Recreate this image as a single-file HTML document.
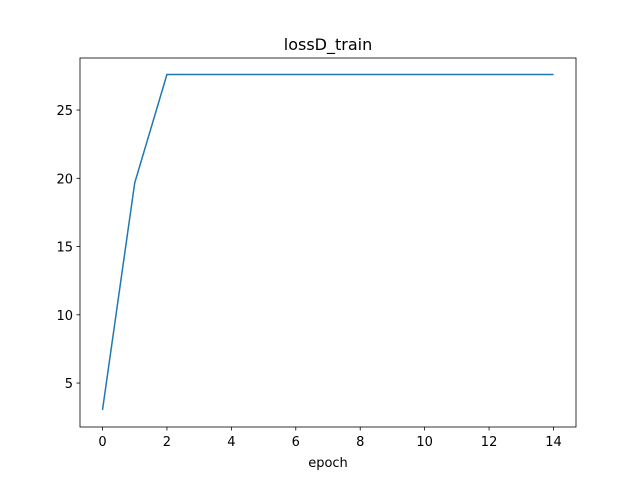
<!DOCTYPE html>
<html><head><meta charset="utf-8"><style>
body{margin:0;background:#fff;}
svg{display:block;font-family:"DejaVu Sans","Liberation Sans",sans-serif;}
</style></head><body>
<svg id="c" width="640" height="480">
<rect width="640" height="480" fill="#fff"/>
<text x="328" y="50" font-size="16" text-anchor="middle">lossD_train</text>
<g id="plot"></g>
<text x="328" y="467" font-size="13" text-anchor="middle">epoch</text>
</svg>
<script>
const epochs=[0,1,2,3,4,5,6,7,8,9,10,11,12,13,14];
const lossValues=[3.03,19.66,27.6,27.6,27.6,27.6,27.6,27.6,27.6,27.6,27.6,27.6,27.6,27.6,27.6];
const xTicks=[0,2,4,6,8,10,12,14];
const yTicks=[5,10,15,20,25];
const L=80,R=576,T=58,B=427;
const xs=v=>102.5+(v-0)*(553.5-102.5)/14;
const ys=v=>451.3-v*13.65;
const ns="http://www.w3.org/2000/svg";
const g=document.getElementById('plot');
function mk(t,a){const e=document.createElementNS(ns,t);for(const k in a)e.setAttribute(k,a[k]);g.appendChild(e);return e;}
const pts=epochs.map((e,i)=>xs(e)+','+ys(lossValues[i])).join(' ');
const line=mk('polyline',{points:pts,fill:'none',stroke:'#1f77b4','stroke-width':1.5});


xTicks.forEach(v=>{
 const t=mk('line',{x1:xs(v),x2:xs(v),y1:B,y2:B+3.5,stroke:'#000','stroke-width':0.8});
 
 
 const l=mk('text',{x:xs(v),y:B+19,'font-size':13,'text-anchor':'middle'});
 l.textContent=v;
 
 
});
yTicks.forEach(v=>{
 const t=mk('line',{x1:L-3.5,x2:L,y1:ys(v),y2:ys(v),stroke:'#000','stroke-width':0.8});
 
 
 const l=mk('text',{x:L-7,y:ys(v)+5,'font-size':13,'text-anchor':'end'});
 l.textContent=v;
 
 
});
const f=mk('rect',{x:L,y:T,width:R-L,height:B-T,fill:'none',stroke:'#000','stroke-width':0.8});


</script>
</body></html>
